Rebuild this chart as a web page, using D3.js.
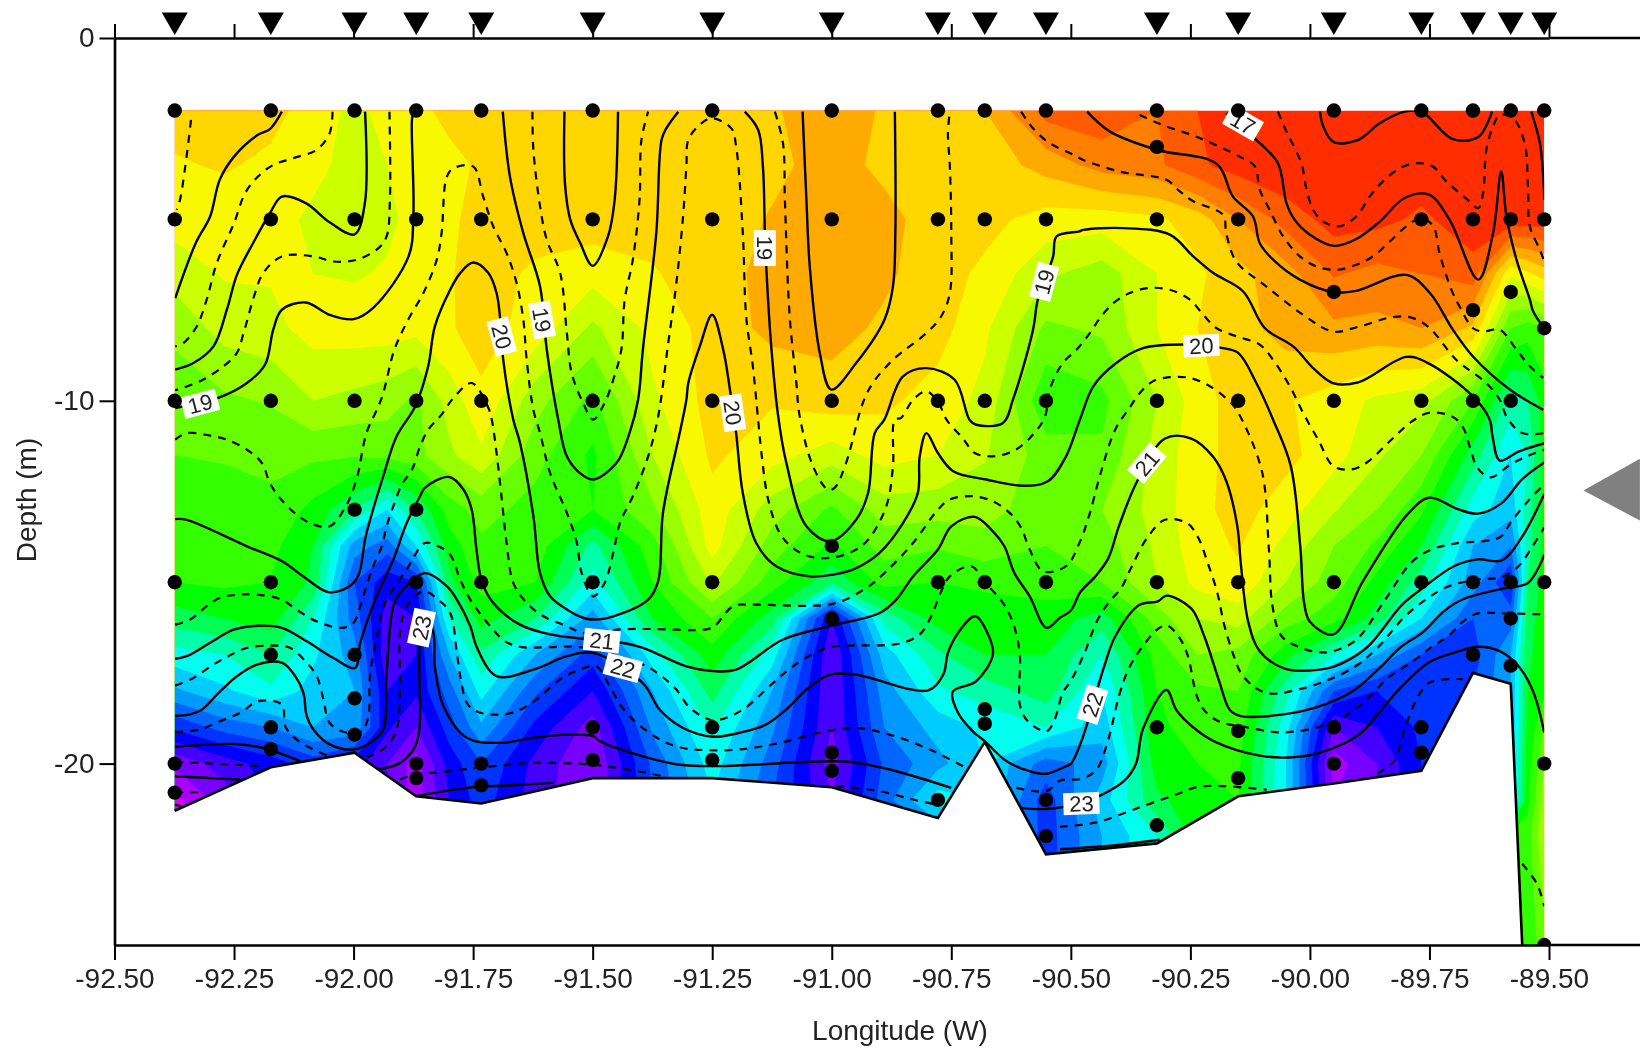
<!DOCTYPE html>
<html>
<head>
<meta charset="utf-8">
<script src="https://cdn.jsdelivr.net/npm/d3@7"></script>
<style>
    html, body { margin: 0; background: #fff; }
    svg { display: block; filter: blur(0.5px); }
    text { font-family: "Liberation Sans", Arial, sans-serif; fill: #222; }
</style>
</head>
<body>
<div id="section"></div>
<script>
// stations, west longitude
var stationLon = [92.374, 92.173, 91.998, 91.869, 91.733, 91.5, 91.25, 91.0, 90.778, 90.68, 90.552, 90.32, 90.15, 89.95, 89.767, 89.659, 89.58, 89.51];
// sample depths at each station (m)
var stationDepths = [
    [2, 5, 10, 15, 20, 20.8],
    [2, 5, 10, 15, 17, 19, 19.6],
    [2, 5, 10, 13, 17, 18.2, 19.2],
    [2, 5, 10, 13, 15, 20, 20.4],
    [2, 5, 10, 15, 20, 20.6],
    [2, 5, 10, 15, 19, 19.9],
    [2, 5, 10, 15, 19, 19.9],
    [2, 5, 10, 14, 16, 19.7, 20.2],
    [2, 5, 10, 15, 21],
    [2, 5, 10, 15, 18.5, 18.9],
    [2, 5, 10, 15, 21, 22],
    [2, 3, 5, 10, 15, 19, 21.7],
    [2, 5, 10, 15, 19.1, 20.4],
    [2, 7, 10, 15, 19, 20],
    [2, 5, 10, 15, 19, 19.7],
    [2, 5, 7.5, 10, 15, 17],
    [2, 5, 7, 10, 15, 16, 17.3],
    [2, 5, 8, 15, 20, 25]
];

// sea floor outline
var floorLon = [92.374, 92.173, 91.998, 91.869, 91.733, 91.5, 91.25, 91.0, 90.778, 90.68, 90.552, 90.32, 90.15, 89.95, 89.767, 89.659, 89.58, 89.556];
var floorDepth = [21.3, 20.1, 19.7, 20.9, 21.1, 20.4, 20.4, 20.65, 21.5, 19.4, 22.5, 22.2, 20.9, 20.55, 20.2, 17.5, 17.8, 25];

var bandColors = ["#ff2d00", "#ff5a00", "#ff8000", "#ffaa00", "#ffd600", "#f8f800", "#ccff00", "#99ff00", "#66ff00", "#33ff00",
    "#00ff00", "#00ff55", "#00ffaa", "#00ffee", "#00ccff", "#0099ff", "#0066ff", "#0033ff", "#0000ff", "#4400ff",
    "#7700ff", "#aa00ff", "#dd00ff"];

// colour field, one row per depth, one column per gridLon
var gridLon = [92.374, 92.27, 92.173, 92.085, 91.998, 91.93, 91.869, 91.80, 91.733, 91.62, 91.5, 91.375, 91.25, 91.125, 91.0, 90.89, 90.778, 90.68, 90.552, 90.435, 90.32, 90.235, 90.15, 90.05, 89.95, 89.86, 89.767, 89.659, 89.58, 89.545, 89.51];
var gridDepth = [2, 3.5, 5, 6.5, 8, 10, 11.5, 13, 14, 15, 16, 17, 18, 19, 20, 21, 22, 25];
var gridValues = [
    [4.6,4.5,4.7,5.4,6.3,5.6,5.2,4.8,4.6,4.5,4.5,4.5,4.3,4.1,3.5,4.1,4.4,4.0,1.6,1.3,2.0,1.0,0.5,0.2,0.2,0.2,0.2,0.2,0.2,0.2,0.2],
    [5.1,4.9,5.2,5.7,6.4,6.0,5.5,5.2,4.9,4.5,4.5,4.6,4.5,4.3,3.5,4.3,4.6,4.6,3.6,2.6,2.2,1.2,0.5,0.1,0.1,0.1,0.4,0.3,0.3,0.3,0.3],
    [5.6,5.5,5.6,6.2,6.7,6.2,5.7,5.2,4.6,4.5,4.5,4.6,4.6,3.9,3.5,3.6,4.6,4.7,5.4,5.5,5.2,4.5,3.0,1.6,0.6,0.7,1.2,0.4,0.3,0.4,0.4],
    [6.6,5.9,5.9,6.0,6.1,5.9,5.7,5.1,4.5,5.2,5.6,5.1,4.4,3.7,3.4,3.8,4.6,5.2,6.8,7.5,6.0,5.2,4.3,3.4,1.9,2.3,2.0,1.4,5.8,5.2,4.5],
    [7.7,6.6,6.3,5.6,5.5,5.5,5.7,5.1,4.6,5.4,7.2,5.7,4.6,3.7,3.6,4.2,4.6,5.8,8.2,7.8,6.0,5.0,4.4,3.6,3.2,3.3,3.0,4.2,9,9.5,9],
    [8.7,8.2,7.9,7,7.3,7.6,8.2,6.6,5.2,7.6,9.3,6.2,4.6,4.9,4.5,4.8,5.4,6.3,9.8,9.3,7,5.5,4.5,4.9,5.5,6.2,6.6,9,12.5,12,10.5],
    [9.0,8.9,8.8,8.8,8.9,8.7,8.3,7.2,6.2,8.6,10.2,7,4.8,5.6,6.5,5.6,6,6.9,8.5,8.8,6.6,5.4,4.6,4.7,5.6,6.8,8,11.5,14,13,10.6],
    [9.5,9.5,9.2,10.3,12,14,12,9.5,8.6,9.4,10,8.2,5.4,7.5,9.2,7.5,7.6,7.6,8.6,8,6.6,5.3,4.6,5.5,6.9,8,9.8,13.5,14.6,12.5,10.6],
    [9.6,9.6,9.7,11,15.5,16.5,14,10.5,9.2,9.4,12.3,9.4,5.6,8.5,10.2,8.6,8.9,8.4,9,8.5,6.8,5.4,4.9,6.3,8,9.2,11,15,16,12.5,10.6],
    [10.0,9.8,10,11.2,17,18.6,18,11.3,9.6,10,13.4,10,6.8,9.5,11.8,9.6,10,9.8,9.6,9,7,5.7,5.2,7,8.5,10.3,12.5,15.5,18,12,10.6],
    [11.5,11,10.5,13,16.5,19.5,19,13,10.6,12,15.5,11,9,11.5,19,12.6,10.6,10.5,10.4,11.5,8.5,7,6.6,8.5,9.6,11.5,14,17,16.5,11.5,10.4],
    [13.4,13,12,13.8,15.5,19.8,19,15,12.2,15,17.5,13.5,10.4,13.5,20,14.5,12.2,11,11,13,9.6,8,8.3,10.6,13,15,17,17.5,15,11.3,10.3],
    [15.2,14.2,13.2,14.4,15,19,18.8,16.5,13.6,16.8,19,15,11.6,15,20,15.5,13.2,12.5,11.5,14,10,9.2,9,12.6,17,18,17.5,17,15,11,10.2],
    [17.8,16.6,16,15,15.3,18.8,20,17.5,15.2,18.3,20.5,15.8,12.8,15.8,20,16,14.6,13.8,13,14.6,10.2,9.6,9.5,13.6,20,19,17.8,17,15,10.8,9],
    [20.8,19.5,18.5,17.5,18.5,20,21.5,18.6,17,19.3,21,16.8,13.5,16.5,20.5,16.8,15.3,14,16.5,15.5,10.5,10,9.8,14,21.5,20,18,17,15,10.5,8],
    [22.3,20.5,19,18,18.5,20,21.5,19,17.5,19.5,21,17,14,17,20,16.5,13.5,14,17.5,14.5,11.2,10.5,10,14,21,20,18,17,15,10.3,7.5],
    [22.5,20.5,19,18,18.5,20,21.5,19,17.5,19.5,21,17,14,17,20,16.5,16,14,17.5,15,13,10.5,10,14,21,20,18,17,10,9.5,7],
    [22.5,20.5,19,18,18.5,20,21.5,19,17.5,19.5,21,17,14,17,20,16.5,16,14,17.5,15,13,10.5,10,14,21,20,18,17,10,9.6,8.5]
];

// contour lines at whole degrees, [lon, depth]
var isoSolid = [
    [[92.15,2.03],[92.175,2.51],[92.2,2.67],[92.25,3.27],[92.28,3.91],[92.3,4.92],[92.33,5.65],[92.373,7.17]],
    [[91.976,2.03],[91.976,4.51],[91.998,5.41],[92.05,5.08],[92.1,4.55],[92.15,4.37],[92.175,4.83],[92.21,5.65],[92.244,6.53],[92.265,7.49],[92.293,8.5],[92.335,8.96],[92.373,9.14]],
    [[92.373,10.2],[92.283,9.92],[92.223,9.51],[92.185,9.0],[92.168,8.04],[92.15,7.49],[92.1,7.29],[92.05,7.63],[92.0,7.75],[91.959,7.44],[91.885,6.02],[91.875,4.92],[91.878,2.26],[91.875,2.03]],
    [[92.373,13.26],[92.349,13.28],[92.223,14.01],[92.15,14.42],[92.105,14.84],[92.05,15.28],[91.997,14.97],[91.973,13.64],[91.938,12.08],[91.91,10.98],[91.871,10.15],[91.844,9.05],[91.83,7.95],[91.798,6.94],[91.777,6.48],[91.75,6.19],[91.718,6.48],[91.701,7.03],[91.694,7.67],[91.687,8.87],[91.666,10.52],[91.652,11.16],[91.624,13.18],[91.61,14.75],[91.589,15.39],[91.554,15.75],[91.52,15.98],[91.499,16.03],[91.457,15.94],[91.384,15.48],[91.363,14.97],[91.353,13.09],[91.318,10.89],[91.304,9.97],[91.3,9.51],[91.276,8.5],[91.25,7.63],[91.227,8.59],[91.213,9.69],[91.2,10.89],[91.186,12.54],[91.158,13.92],[91.116,14.56],[91.046,14.84],[90.997,14.79],[90.949,14.61],[90.9,14.19],[90.851,13.37],[90.82,12.54],[90.816,11.53],[90.802,10.89],[90.778,11.44],[90.746,11.94],[90.677,12.17],[90.6,12.34],[90.548,12.22],[90.51,11.53],[90.481,10.52],[90.453,9.6],[90.405,8.96],[90.349,8.55],[90.265,8.45],[90.182,8.55],[90.15,8.68],[90.112,9.51],[90.077,10.52],[90.04,11.8],[90.02,14.05],[90.012,15.58],[90.0,16.09],[89.951,16.44],[89.889,14.97],[89.796,13.13],[89.75,12.67],[89.692,12.98],[89.649,13.11],[89.599,12.82],[89.556,12.16],[89.51,11.7]],
    [[91.688,2.03],[91.673,3.82],[91.645,5.38],[91.61,6.85],[91.596,8.59],[91.572,10.52],[91.554,11.53],[91.527,11.99],[91.499,12.17],[91.45,11.71],[91.423,10.89],[91.405,9.97],[91.395,8.59],[91.367,5.38],[91.356,2.81],[91.346,2.49],[91.321,2.03]],
    [[91.559,2.03],[91.558,4.0],[91.547,5.0],[91.526,5.65],[91.5,6.28],[91.468,5.47],[91.454,4.46],[91.447,2.03]],
    [[91.182,2.03],[91.154,2.53],[91.144,3.54],[91.14,5.29],[91.137,6.3],[91.126,8.59],[91.112,10.43],[91.095,11.71],[91.053,13.46],[91.003,13.87],[90.949,13.28],[90.924,12.54],[90.91,10.89],[90.89,10.52],[90.851,9.33],[90.802,9.1],[90.743,9.42],[90.712,10.52],[90.698,10.66],[90.642,10.61],[90.621,9.97],[90.579,8.04],[90.569,7.21],[90.537,6.02],[90.53,5.47],[90.482,5.33],[90.474,5.29],[90.391,5.24],[90.293,5.42],[90.244,6.02],[90.202,6.48],[90.14,6.98],[90.094,8.0],[90.035,8.5],[89.993,9.1],[89.952,9.51],[89.899,9.49],[89.798,8.79],[89.753,8.96],[89.659,9.88],[89.624,10.52],[89.618,10.99],[89.603,11.65],[89.564,11.4],[89.51,11.17]],
    [[91.061,2.03],[91.053,4.46],[91.046,6.3],[91.025,8.68],[91.001,9.69],[90.949,8.96],[90.89,7.77],[90.872,6.85],[90.867,5.38],[90.868,2.03]],
    [[92.373,17.11],[92.349,17.04],[92.3,16.67],[92.251,16.31],[92.199,16.2],[92.15,16.26],[92.098,16.63],[92.042,17.09],[91.997,17.36],[91.986,16.67],[91.952,15.39],[91.917,14.38],[91.889,13.37],[91.861,12.63],[91.851,12.4],[91.8,12.1],[91.77,12.45],[91.753,13.0],[91.743,14.1],[91.732,14.97],[91.708,15.57],[91.652,16.17],[91.589,16.44],[91.52,16.56],[91.44,16.67],[91.395,16.81],[91.304,17.32],[91.248,17.45],[91.2,17.41],[91.102,16.58],[91.004,16.21],[90.9,15.85],[90.865,15.48],[90.83,14.84],[90.778,14.1],[90.75,13.46],[90.701,13.2],[90.663,13.6],[90.639,14.01],[90.618,14.75],[90.586,15.39],[90.551,16.26],[90.523,15.98],[90.5,15.78],[90.48,15.27],[90.45,14.86],[90.422,14.35],[90.399,13.44],[90.361,12.21],[90.303,11.04],[90.248,11.04],[90.202,11.55],[90.175,12.21],[90.152,13.44],[90.144,14.56],[90.129,16.09],[90.105,16.9],[90.051,17.39],[89.997,17.43],[89.947,17.31],[89.881,16.8],[89.808,15.63],[89.765,15.17],[89.699,14.56],[89.649,14.37],[89.599,14.4],[89.556,13.74],[89.51,12.57]],
    [[92.373,18.68],[92.345,18.65],[92.317,18.51],[92.286,18.1],[92.244,17.59],[92.202,17.27],[92.15,17.22],[92.122,17.59],[92.105,18.05],[92.098,18.69],[92.084,19.06],[92.05,19.47],[92.0,19.61],[91.966,19.43],[91.938,19.06],[91.931,17.5],[91.917,15.66],[91.903,15.3],[91.851,14.75],[91.805,15.11],[91.784,15.48],[91.756,16.21],[91.743,16.77],[91.701,17.59],[91.624,17.41],[91.554,17.04],[91.499,16.95],[91.395,17.78],[91.36,18.51],[91.311,19.02],[91.248,19.26],[91.193,19.15],[91.137,18.92],[91.091,18.46],[91.053,17.96],[91.004,17.55],[90.949,17.55],[90.799,17.98],[90.767,17.55],[90.757,16.95],[90.736,16.4],[90.7,15.94],[90.673,16.44],[90.663,16.99],[90.698,17.73],[90.747,18.02],[90.736,18.6],[90.705,19.11],[90.68,19.38],[90.635,19.93],[90.586,20.21],[90.551,20.28],[90.51,20.07],[90.5,20.01],[90.477,19.35],[90.43,17.31],[90.407,16.49],[90.357,15.63],[90.318,15.53],[90.3,15.37],[90.248,15.73],[90.221,16.49],[90.19,17.72],[90.167,18.53],[90.144,18.69],[90.059,18.65],[89.982,18.43],[89.912,18.02],[89.858,17.41],[89.811,16.8],[89.765,16.39],[89.718,15.78],[89.68,15.47],[89.595,15.17],[89.544,15.02],[89.51,14.25]],
    [[90.175,2.07],[90.112,2.81],[90.067,3.45],[90.049,4.55],[90.032,5.01],[90.0,5.42],[89.949,5.73],[89.903,5.54],[89.854,5.06],[89.802,4.41],[89.751,4.32],[89.708,5.01],[89.648,6.66],[89.617,5.38],[89.6,3.68],[89.589,4.92],[89.568,6.11],[89.54,7.21],[89.533,7.54],[89.51,8.0]],
    [[90.466,2.03],[90.418,2.58],[90.321,3.08],[90.195,3.47],[90.161,4.37],[90.119,4.92],[90.105,5.65],[90.077,6.11],[90.021,6.66],[89.949,7.01],[89.903,6.97],[89.798,6.53],[89.749,7.03],[89.701,8.04],[89.659,8.78],[89.582,9.69],[89.512,10.25]],
    [[89.979,2.03],[89.972,2.44],[89.95,2.87],[89.899,2.81],[89.854,2.35],[89.802,2.03],[89.767,2.03],[89.701,2.79],[89.648,2.73],[89.619,2.03]],
    [[89.537,2.03],[89.519,2.9],[89.512,3.82],[89.51,4.46]],
    [[92.373,19.54],[92.251,19.46],[92.189,19.57],[92.112,19.93]],
    [[91.948,20.16],[91.903,19.98],[91.871,19.52],[91.862,18.97],[91.862,16.86],[91.851,15.85],[91.833,16.4],[91.83,17.32],[91.812,18.42],[91.763,19.29],[91.694,19.43],[91.624,19.29],[91.554,19.2],[91.499,19.24],[91.485,19.38],[91.395,19.8],[91.318,20.03],[91.248,20.07],[91.165,20.03],[91.039,19.95],[90.963,19.95],[90.865,20.21],[90.75,20.67]],
    [[90.607,21.22],[90.551,21.25],[90.477,21.08],[90.438,20.88],[90.388,20.47],[90.364,20.01],[90.349,19.04],[90.3,17.97],[90.279,18.53],[90.245,18.99],[90.198,19.4],[90.105,19.78],[90.043,19.83],[89.982,19.71],[89.897,19.2],[89.858,18.63],[89.811,17.92],[89.75,17.2],[89.688,16.9],[89.649,16.78],[89.603,16.9],[89.564,17.31],[89.533,18.02],[89.51,19.14]],
    [[92.373,20.35],[92.237,20.44]],
    [[91.871,20.9],[91.763,20.67],[91.659,20.59],[91.582,20.53]],
    [[90.523,22.36],[90.407,22.25],[90.314,22.1]],
    [[92.373,21.13],[92.349,21.22]]
];

// contour lines at half degrees
var isoDashed = [
    [[92.34,2.26],[92.352,3.54],[92.363,4.46],[92.37,4.74]],
    [[92.044,2.03],[92.05,2.62],[92.077,3.08],[92.126,3.31],[92.168,3.5],[92.2,3.82],[92.227,4.28],[92.25,5.1],[92.286,6.2],[92.307,7.2],[92.328,7.95],[92.356,8.41],[92.373,8.5]],
    [[91.925,2.03],[91.924,4.46],[91.931,5.47],[91.948,5.79],[91.993,6.11],[92.042,6.16],[92.084,6.02],[92.15,6.02],[92.189,6.48],[92.206,7.03],[92.23,8.13],[92.244,8.68],[92.272,9.05],[92.321,9.46],[92.373,9.71]],
    [[92.373,11.07],[92.349,10.89],[92.3,10.96],[92.265,11.07],[92.223,11.35],[92.192,11.71],[92.175,12.27],[92.154,12.68],[92.119,13.14],[92.084,13.41],[92.05,13.46],[92.018,12.95],[91.994,12.17],[91.973,10.89],[91.948,10.15],[91.938,9.79],[91.917,8.68],[91.903,8.22],[91.882,7.67],[91.854,7.03],[91.826,6.11],[91.816,5.38],[91.805,3.82],[91.791,3.59],[91.75,3.54],[91.729,4.37],[91.708,5.19],[91.68,5.93],[91.659,6.76],[91.645,7.77],[91.638,8.87],[91.624,10.25],[91.61,10.89],[91.589,11.99],[91.554,13.09],[91.533,13.92],[91.523,14.75],[91.499,15.39],[91.475,15.02],[91.457,14.19],[91.443,13.37],[91.416,12.63],[91.384,11.53],[91.363,10.43],[91.342,8.41],[91.325,6.76],[91.311,4.92],[91.304,3.54],[91.3,2.81],[91.276,2.39],[91.252,2.21],[91.21,2.49],[91.2,2.99],[91.186,5.38],[91.179,7.67],[91.165,9.05],[91.154,10.52],[91.147,11.44],[91.133,12.72],[91.109,13.64],[91.081,14.06],[91.046,14.29],[91.004,14.33],[90.956,14.15],[90.924,13.83],[90.886,12.91],[90.872,11.81],[90.868,10.52],[90.855,10.47],[90.83,9.97],[90.802,9.74],[90.778,10.02],[90.76,10.52],[90.726,11.03],[90.701,11.44],[90.663,11.53],[90.621,11.39],[90.586,11.03],[90.555,10.47],[90.544,9.69],[90.517,8.96],[90.488,8.59],[90.46,8.13],[90.439,7.72],[90.411,7.31],[90.377,7.03],[90.335,6.89],[90.293,6.94],[90.251,7.21],[90.223,7.63],[90.195,8.0],[90.154,8.22],[90.105,8.45],[90.077,8.87],[90.042,9.6],[90.014,10.34],[89.982,11.09],[89.951,11.8],[89.912,11.89],[89.881,11.7],[89.827,11.04],[89.788,10.58],[89.75,10.33],[89.703,10.43],[89.68,10.73],[89.665,11.3],[89.649,11.86],[89.622,12.11],[89.58,11.75],[89.541,11.5],[89.51,11.35]],
    [[91.119,2.03],[91.102,2.9],[91.098,4.46],[91.088,7.67],[91.074,9.51],[91.067,10.43],[91.039,11.81],[91.008,12.45],[90.994,12.4],[90.97,11.71],[90.935,10.06],[90.914,9.51],[90.872,8.87],[90.802,8.13],[90.771,7.67],[90.753,7.03],[90.75,5.38],[90.753,3.54],[90.757,2.62],[90.753,2.03]],
    [[91.626,2.03],[91.624,3.08],[91.61,4.64],[91.596,5.56],[91.568,6.48],[91.554,8.13],[91.544,9.23],[91.52,10.06],[91.499,10.52],[91.475,10.06],[91.457,9.42],[91.44,8.59],[91.433,7.21],[91.416,6.11],[91.402,4.46],[91.398,2.81],[91.384,2.03]],
    [[92.373,16.17],[92.342,16.03],[92.307,15.66],[92.279,15.43],[92.237,15.34],[92.202,15.34],[92.15,15.48],[92.119,15.76],[92.077,16.08],[92.025,16.26],[92.0,16.12],[91.986,15.66],[91.973,15.11],[91.959,14.56],[91.941,14.01],[91.931,13.46],[91.917,12.91],[91.899,12.31],[91.878,11.9],[91.861,11.26],[91.844,10.8],[91.816,10.38],[91.791,9.92],[91.753,9.51],[91.718,10.2],[91.711,10.52],[91.701,11.44],[91.69,12.72],[91.68,13.92],[91.666,15.02],[91.638,15.57],[91.603,15.94],[91.554,16.21],[91.52,16.4],[91.443,16.3],[91.374,16.29],[91.262,16.3],[91.245,16.21],[91.206,15.66],[91.165,15.62],[90.997,15.59],[90.928,15.16],[90.886,14.7],[90.83,13.92],[90.778,13.0],[90.753,12.72],[90.705,12.63],[90.663,12.77],[90.628,13.09],[90.604,13.5],[90.586,14.1],[90.558,14.7],[90.51,14.56],[90.482,13.92],[90.461,13.13],[90.438,12.01],[90.407,10.79],[90.376,10.17],[90.356,9.79],[90.328,9.46],[90.293,9.35],[90.251,9.37],[90.209,9.6],[90.168,10.02],[90.152,10.28],[90.101,11.91],[90.086,14.05],[90.078,15.68],[90.059,16.49],[90.02,16.8],[89.982,16.93],[89.951,16.9],[89.904,16.6],[89.842,15.47],[89.788,14.46],[89.746,14.1],[89.695,13.93],[89.603,13.76],[89.579,13.33],[89.541,12.72],[89.51,12.31]],
    [[92.373,17.85],[92.335,17.64],[92.293,17.27],[92.262,17.04],[92.223,16.81],[92.175,16.75],[92.133,16.81],[92.098,17.22],[92.077,17.59],[92.063,18.23],[92.05,18.88],[92.014,19.15],[91.983,19.11],[91.969,18.69],[91.966,17.59],[91.952,16.58],[91.941,15.85],[91.931,15.48],[91.889,14.65],[91.851,13.92],[91.823,14.01],[91.798,14.24],[91.777,14.93],[91.756,15.48],[91.708,16.31],[91.683,16.63],[91.648,16.79],[91.589,16.79],[91.527,16.79],[91.395,17.27],[91.36,17.55],[91.325,17.96],[91.297,18.46],[91.255,18.79],[91.234,18.79],[91.186,18.51],[91.123,17.78],[91.081,17.32],[91.011,16.81],[90.97,16.75],[90.858,16.69],[90.816,16.44],[90.792,15.94],[90.771,15.25],[90.753,14.84],[90.708,14.56],[90.68,15.0],[90.642,15.57],[90.621,16.12],[90.607,16.95],[90.606,18.42],[90.59,18.83],[90.551,19.11],[90.534,18.79],[90.517,18.05],[90.5,17.72],[90.473,17.0],[90.446,16.09],[90.422,15.58],[90.395,15.17],[90.376,14.66],[90.341,13.79],[90.303,13.28],[90.256,13.38],[90.233,13.79],[90.214,14.46],[90.194,15.27],[90.179,16.19],[90.16,17.0],[90.144,17.51],[90.113,17.92],[90.082,18.07],[90.028,17.97],[89.966,17.72],[89.904,17.31],[89.858,16.8],[89.804,15.98],[89.757,15.47],[89.711,15.12],[89.653,14.93],[89.599,14.86],[89.564,14.56],[89.541,14.15],[89.51,13.49]],
    [[92.373,19.13],[92.321,19.06],[92.279,18.83],[92.237,18.6],[92.199,18.28],[92.15,18.37],[92.143,18.97],[92.119,19.34],[92.084,19.61],[92.042,19.84]],
    [[91.973,19.84],[91.931,19.52],[91.91,19.06],[91.903,17.78],[91.903,16.4],[91.889,15.66],[91.854,15.25],[91.823,15.48],[91.798,15.85],[91.784,16.95],[91.777,17.59],[91.763,18.33],[91.743,18.56],[91.701,18.65],[91.659,18.56],[91.617,18.23],[91.568,17.68],[91.527,17.41],[91.492,17.32],[91.468,17.78],[91.44,18.42],[91.408,18.88],[91.353,19.38],[91.311,19.57],[91.262,19.63],[91.193,19.61],[91.109,19.43],[91.011,19.11],[90.949,19.02],[90.879,19.2],[90.795,19.61],[90.719,20.12]],
    [[90.614,20.67],[90.551,20.76],[90.523,20.47],[90.477,20.42],[90.446,20.16],[90.422,19.35],[90.399,18.12],[90.38,17.41],[90.357,16.9],[90.318,16.29],[90.299,16.19],[90.275,16.49],[90.256,17.0],[90.237,18.12],[90.221,18.53],[90.19,18.84],[90.136,18.99],[90.059,19.14],[89.982,18.99],[89.927,18.69],[89.881,18.23],[89.835,17.62],[89.788,17.21],[89.742,16.75],[89.711,16.49],[89.68,16.09],[89.649,15.86],[89.595,15.86],[89.525,15.88],[89.51,15.88]],
    [[90.604,2.03],[90.579,2.49],[90.544,2.9],[90.499,3.19],[90.474,3.36],[90.398,3.68],[90.3,3.91],[90.272,4.23],[90.244,4.5],[90.182,4.87],[90.175,5.38],[90.154,6.16],[90.091,6.85],[90.014,7.63],[89.952,8.09],[89.896,7.95],[89.826,7.69],[89.784,7.72],[89.749,8.0],[89.694,8.87],[89.631,9.51],[89.603,9.97],[89.587,10.48],[89.556,10.89],[89.51,10.89]],
    [[90.356,2.12],[90.314,2.37],[90.23,2.76],[90.147,3.27],[90.115,3.54],[90.105,4.18],[90.084,4.74],[90.056,5.47],[90.021,6.02],[89.986,6.3],[89.945,6.39],[89.903,6.25],[89.868,6.02],[89.833,5.61],[89.798,5.19],[89.767,4.96],[89.742,5.19],[89.729,5.93],[89.704,6.94],[89.687,7.4],[89.659,8.0],[89.638,8.09],[89.603,8.04],[89.568,8.59],[89.54,9.05],[89.512,9.37]],
    [[90.067,2.03],[90.049,2.58],[90.018,3.45],[90.007,4.18],[89.993,4.74],[89.972,5.06],[89.938,5.19],[89.903,4.92],[89.875,4.37],[89.851,4.0],[89.812,3.59],[89.777,3.45],[89.743,3.54],[89.715,3.95],[89.67,4.46],[89.648,4.69],[89.638,4.28],[89.631,3.08],[89.617,2.44],[89.603,2.12],[89.575,2.21],[89.551,2.9],[89.544,4.09],[89.54,5.19],[89.519,5.84],[89.51,6.16]],
    [[92.373,19.96],[92.321,19.98],[92.251,20.03],[92.189,20.07]],
    [[91.903,20.44],[91.875,20.3],[91.826,20.25],[91.77,20.16],[91.708,20.07],[91.624,19.98],[91.499,20.03],[91.45,20.12],[91.388,20.25],[91.353,20.35]],
    [[90.99,20.62],[90.9,20.76],[90.83,20.99],[90.781,21.13]],
    [[90.523,21.74],[90.477,21.69],[90.438,21.59],[90.361,21.23],[90.275,20.83],[90.237,20.65],[90.183,20.62],[90.09,20.72]],
    [[89.858,20.27],[89.823,19.91],[89.804,19.14],[89.777,18.23],[89.75,17.77],[89.68,17.67]],
    [[89.556,22.76],[89.525,23.32],[89.51,23.93]],
    [[92.373,20.79],[92.321,20.79]]
];

// contour labels
var labelText = ["19", "20", "19", "19", "20", "19", "20", "21", "22", "23", "21", "22", "23", "17"];
var labelLon = [92.321, 91.69, 91.606, 91.14, 91.207, 90.556, 90.227, 90.341, 90.455, 90.478, 91.481, 91.437, 91.858, 90.14];
var labelDepth = [10.08, 8.23, 7.77, 5.79, 10.33, 6.72, 8.48, 11.72, 18.37, 21.1, 16.61, 17.36, 16.25, 2.34];
var labelAngle = [-15, 75, 80, 90, 82, -75, -3, -50, -72, -2, 6, 15, -78, 30];

// grey marker at the right edge
var markerLon = [89.428, 89.31, 89.31];
var markerDepth = [12.47, 11.6, 13.3];

var xTicks = d3.range(92.5, 89.49, -0.25);
var yTicks = [0, 10, 20];

var width = 1640,
    height = 1048;

var svg = d3.select("#section")
    .append("svg")
    .attr("width", width)
    .attr("height", height);

var x = d3.scaleLinear().domain([92.5, 89.5]).range([114.5, 1549]);
var y = d3.scaleLinear().domain([0, 25]).range([38, 945]);

// grid index to map position
var lonAt = d3.scaleLinear().domain(d3.range(gridLon.length)).range(gridLon).clamp(true);
var depthAt = d3.scaleLinear().domain(d3.range(gridDepth.length)).range(gridDepth).clamp(true);

var project = d3.geoTransform({
    point: function(u, v) {
        this.stream.point(x(lonAt(u - 0.5)), y(depthAt(v - 0.5)));
    }
});
var geoPath = d3.geoPath(project);

// section outline, used as a mask for the colours and the lines
var outline = floorLon.map(function(d, i) {
    return [d, floorDepth[i]];
}).reverse();
outline = [[92.374, 2], [89.51, 2], [89.51, 25]].concat(outline);

var toPx = d3.line()
    .x(function(d) { return x(d[0]); })
    .y(function(d) { return y(d[1]); });

var defs = svg.append("defs");
defs.append("clipPath").attr("id", "section-clip")
    .append("path").attr("d", toPx(outline) + "Z");
defs.append("clipPath").attr("id", "plot-clip")
    .append("rect")
    .attr("x", x(92.5)).attr("y", y(0))
    .attr("width", width - x(92.5)).attr("height", y(25) - y(0));

var contours = d3.contours()
    .size([gridLon.length, gridDepth.length])
    .thresholds(d3.range(0, bandColors.length))(d3.merge(gridValues));

svg.append("g")
    .attr("clip-path", "url(#section-clip)")
    .selectAll("path")
    .data(contours)
    .enter()
    .append("path")
    .attr("d", geoPath)
    .attr("fill", function(d) { return bandColors[d.value]; });

// contour lines
var isoLine = d3.line()
    .x(function(d) { return x(d[0]); })
    .y(function(d) { return y(d[1]); })
    .curve(d3.curveCatmullRom.alpha(0.5));

var lines = svg.append("g")
    .attr("clip-path", "url(#section-clip)")
    .attr("fill", "none")
    .attr("stroke", "#000");

lines.selectAll(".solid")
    .data(isoSolid)
    .enter()
    .append("path")
    .attr("class", "solid")
    .attr("stroke-width", 2.4)
    .attr("d", isoLine);

lines.selectAll(".dashed")
    .data(isoDashed)
    .enter()
    .append("path")
    .attr("class", "dashed")
    .attr("stroke-width", 2.2)
    .attr("stroke-dasharray", "8 7")
    .attr("d", isoLine);

// sea floor
svg.append("path")
    .attr("fill", "none")
    .attr("stroke", "#000")
    .attr("stroke-width", 2.6)
    .attr("d", toPx(floorLon.map(function(d, i) {
        return [d, floorDepth[i]];
    })));

// contour labels
var labels = svg.selectAll(".iso-label")
    .data(labelText)
    .enter()
    .append("g")
    .attr("class", "iso-label")
    .attr("transform", function(d, i) {
        return "translate(" + x(labelLon[i]) + "," + y(labelDepth[i]) + ") rotate(" + labelAngle[i] + ")";
    });
labels.append("rect")
    .attr("x", -18).attr("y", -11)
    .attr("width", 36).attr("height", 22)
    .attr("fill", "#fff");
labels.append("text")
    .attr("text-anchor", "middle")
    .attr("dy", "0.36em")
    .style("font-size", "22px")
    .text(function(d) { return d; });

// sample points
var samples = [];
stationDepths.forEach(function(list, i) {
    list.forEach(function(d) {
        samples.push([stationLon[i], d]);
    });
});
svg.append("g")
    .attr("clip-path", "url(#plot-clip)")
    .selectAll("circle")
    .data(samples)
    .enter()
    .append("circle")
    .attr("cx", function(d) { return x(d[0]); })
    .attr("cy", function(d) { return y(d[1]); })
    .attr("r", 7.2)
    .attr("fill", "#000");

// axes
var xAxisTop = svg.append("g")
    .attr("class", "axis")
    .attr("transform", "translate(0," + y(0) + ")")
    .call(d3.axisTop(x).tickValues(xTicks).tickSize(14).tickSizeOuter(0).tickFormat(""));

var xAxisBottom = svg.append("g")
    .attr("class", "axis")
    .attr("transform", "translate(0," + y(25) + ")")
    .call(d3.axisBottom(x).tickValues(xTicks).tickSize(15).tickSizeOuter(0).tickPadding(8)
        .tickFormat(function(d) { return "-" + d.toFixed(2); }));

var yAxis = svg.append("g")
    .attr("class", "axis")
    .attr("transform", "translate(" + x(92.5) + ",0)")
    .call(d3.axisLeft(y).tickValues(yTicks).tickSize(15).tickSizeOuter(0).tickPadding(5)
        .tickFormat(function(d) { return d == 0 ? "0" : "-" + d; }));

svg.selectAll(".axis text")
    .style("font-size", "28px")
    .style("font-family", '"Liberation Sans", Arial, sans-serif')
    .attr("fill", "#222");
svg.selectAll(".axis line").attr("stroke", "#000").attr("stroke-width", 2);
svg.selectAll(".axis path").attr("stroke", "#000").attr("stroke-width", 2.6);

// top and bottom axis lines run on to the edge of the page
[y(0), y(25)].forEach(function(yy) {
    svg.append("line")
        .attr("x1", x(89.5)).attr("x2", width)
        .attr("y1", yy).attr("y2", yy)
        .attr("stroke", "#000")
        .attr("stroke-width", 2.6);
});

// station markers
svg.append("g")
    .selectAll("path")
    .data(stationLon)
    .enter()
    .append("path")
    .attr("transform", function(d) {
        return "translate(" + x(d) + ",0)";
    })
    .attr("d", "M-13,12.5L13,12.5L0,35Z")
    .attr("fill", "#000");

svg.append("path")
    .attr("d", toPx(markerLon.map(function(d, i) {
        return [d, markerDepth[i]];
    })) + "Z")
    .attr("fill", "#808080");

// axis titles
svg.append("text")
    .attr("text-anchor", "middle")
    .attr("x", 900)
    .attr("y", 1040)
    .style("font-size", "28px")
    .text("Longitude (W)");

svg.append("text")
    .attr("text-anchor", "middle")
    .attr("transform", "translate(36,500) rotate(-90)")
    .style("font-size", "28px")
    .text("Depth (m)");
</script>
</body>
</html>
